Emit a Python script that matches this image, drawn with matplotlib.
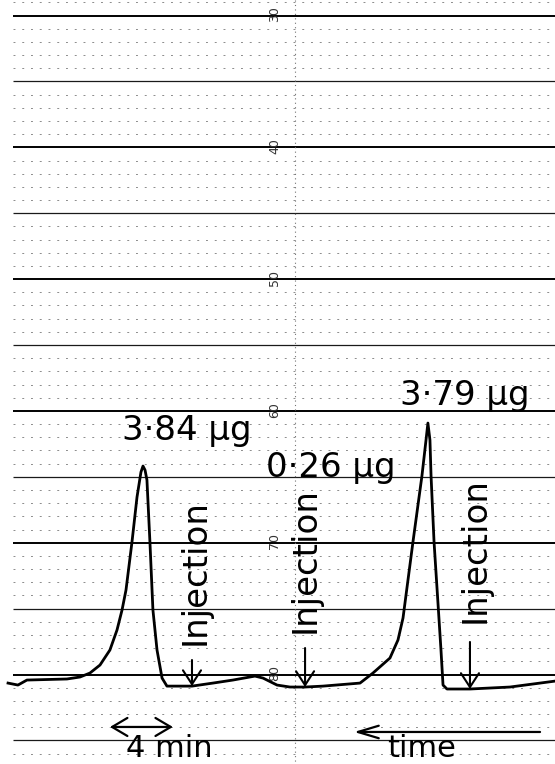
import numpy as np
import matplotlib
matplotlib.use("Agg")
import matplotlib.pyplot as plt

# chart-recorder trace: time in minutes (left -> right on paper), recorder scale units (increasing downward)
time_min = [0.51, 1.14, 1.71, 4.25, 5.08, 5.71, 6.35, 6.98, 7.43, 7.75, 8.00, 8.38, 8.70, 8.95, 9.08,
            9.21, 9.33, 9.52, 9.71, 9.97, 10.29, 10.60, 11.43, 12.19, 13.52, 14.79, 16.19, 16.70, 17.59,
            18.41, 19.37, 20.51, 22.86, 23.68, 24.76, 25.27, 25.59, 26.22, 26.79, 27.05, 27.17, 27.30,
            27.37, 27.56, 27.87, 28.00, 28.13, 28.38, 29.84, 32.38, 34.29, 35.24]
signal = [80.65, 80.80, 80.42, 80.34, 80.19, 79.89, 79.28, 78.14, 76.62, 75.10, 73.59, 69.95, 66.53, 64.64, 64.18,
          64.49, 65.24, 69.95, 75.10, 78.14, 80.27, 80.88, 80.88, 80.88, 80.65, 80.42, 80.12, 80.27, 80.80,
          80.95, 80.95, 80.88, 80.65, 79.89, 78.75, 77.38, 75.71, 69.95, 64.94, 62.21, 60.92, 62.21,
          64.94, 69.95, 75.71, 78.14, 80.80, 81.10, 81.10, 80.95, 80.65, 80.50]

peak_labels = ["3·84 µg", "0·26 µg", "3·79 µg"]
injection_times = [12.19, 19.37, 29.84]
scale_labels = [30, 40, 50, 60, 70, 80]

fig = plt.figure(figsize=(5.55, 7.64), dpi=100)
ax = fig.add_axes([0, 0, 1, 1])
ax.set_xlim(0, 35.24)
ax.set_ylim(86.79, 28.82)
ax.axis("off")

# recorder paper grid
x0 = 0.83
for v in np.arange(29, 87, 1):
    if v % 10 == 0:
        ax.hlines(v, x0, 35.24, color="black", lw=1.4, zorder=1)
    elif v % 5 == 0:
        ax.hlines(v, x0, 35.24, color="0.1", lw=0.9, zorder=1)
    else:
        ax.hlines(v, x0, 35.24, color="0.55", lw=0.7, linestyles=(0, (2, 7)), zorder=1)
ax.vlines(18.73, 28.82, 86.79, color="0.45", lw=0.8, linestyles=(0, (1, 3)), zorder=1)
for v in scale_labels:
    ax.text(17.46, v - 0.1, str(v), rotation=90, fontsize=9, color="0.2",
            ha="center", va="center", zorder=2)

# trace
ax.plot(time_min, signal, color="black", lw=2.0, solid_joinstyle="round", zorder=4)

# peak amounts
ax.text(7.75, 62.21, peak_labels[0], fontsize=24.5, ha="left", va="baseline", zorder=5)
ax.text(16.89, 65.02, peak_labels[1], fontsize=24.5, ha="left", va="baseline", zorder=5)
ax.text(25.40, 59.55, peak_labels[2], fontsize=24.5, ha="left", va="baseline", zorder=5)

# injection markers
label_x = [13.02, 20.0, 30.79]
label_y = [77.76, 76.85, 76.09]
arrow_top = [78.9, 77.99, 77.53]
for t, lx, ly, top in zip(injection_times, label_x, label_y, arrow_top):
    tip = np.interp(t, time_min, signal)
    ax.annotate("", xy=(t, tip), xytext=(t, top),
                arrowprops=dict(arrowstyle="->,head_length=1.0,head_width=0.65",
                                color="black", lw=1.5, shrinkA=0, shrinkB=0), zorder=5)
    ax.text(lx, ly, "Injection", rotation=90, rotation_mode="anchor", fontsize=24.5,
            ha="left", va="baseline", zorder=5)

# scale bars
ax.annotate("", xy=(6.98, 83.98), xytext=(10.98, 83.98),
            arrowprops=dict(arrowstyle="<->,head_length=1.1,head_width=0.65",
                            color="black", lw=1.6, shrinkA=0, shrinkB=0))
ax.text(8.0, 86.74, "4 min", fontsize=22, ha="left", va="bottom")
ax.annotate("", xy=(22.48, 84.36), xytext=(34.29, 84.36),
            arrowprops=dict(arrowstyle="->,head_length=1.5,head_width=0.45",
                            color="black", lw=1.6, shrinkA=0, shrinkB=0))
ax.text(24.57, 86.74, "time", fontsize=22, ha="left", va="bottom")

fig.savefig("out.png", dpi=100)
